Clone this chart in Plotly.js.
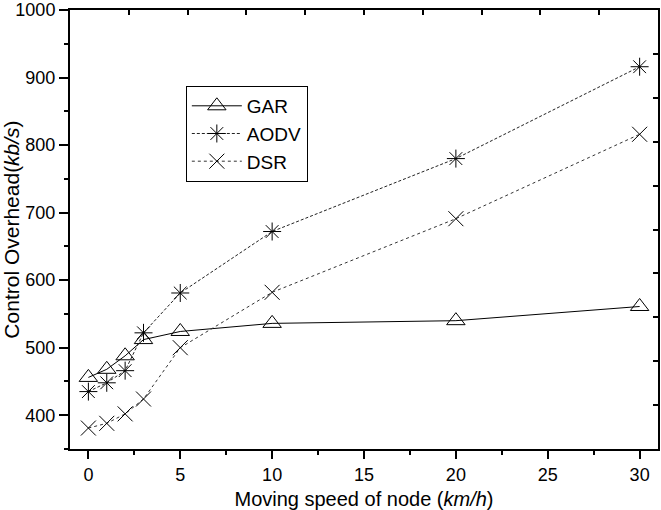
<!DOCTYPE html>
<html>
<head>
<meta charset="utf-8">
<script src="https://cdn.plot.ly/plotly-3.0.1.min.js"></script>
<style>html,body{margin:0;padding:0;background:#fff;}#chart{width:661px;height:510px;}</style>
</head>
<body>
<div id="chart"></div>
<script>
const speed = [0, 1, 2, 3, 5, 10, 20, 30];
const gar  = [456, 468, 488, 512, 524, 536, 540, 561];
const aodv = [435, 448, 466, 522, 581, 672, 780, 916];
const dsr  = [381, 388, 402, 424, 500, 582, 691, 816];
const seriesNames = ['GAR', 'AODV', 'DSR'];
const yTicks = [400, 500, 600, 700, 800, 900, 1000];

const traces = [
  {x: speed, y: gar, name: seriesNames[0], type: 'scatter', mode: 'lines+markers',
   line: {color: '#000', width: 1, dash: 'solid'},
   marker: {symbol: 'triangle-up-open', size: 16, color: '#000', line: {width: 1, color: '#000'}}},
  {x: speed, y: aodv, name: seriesNames[1], type: 'scatter', mode: 'lines+markers',
   line: {color: '#222', width: 1, dash: '3px,2px'},
   marker: {symbol: 'asterisk-open', size: 15, color: '#000', line: {width: 1, color: '#000'}}},
  {x: speed, y: dsr, name: seriesNames[2], type: 'scatter', mode: 'lines+markers',
   line: {color: '#333', width: 1, dash: 'dot'},
   marker: {symbol: 'x-thin-open', size: 15, color: '#000', line: {width: 1, color: '#000'}}},
  {x: [0, 10], y: [0, 10], xaxis: 'x2', yaxis: 'y2', mode: 'markers', marker: {opacity: 0},
   showlegend: false, hoverinfo: 'skip'}
];

const fam = 'Liberation Sans, Arial, sans-serif';
const tickFont = {family: fam, size: 18, color: '#000'};

const layout = {
  width: 661, height: 510,
  margin: {l: 70, r: 3, t: 10, b: 61},
  paper_bgcolor: '#fff', plot_bgcolor: '#fff',
  font: tickFont,
  showlegend: true,
  legend: {x: 0.197, y: 0.827, xanchor: 'left', yanchor: 'top',
           bordercolor: '#000', borderwidth: 1, bgcolor: '#fff',
           font: {family: fam, size: 19, color: '#000'},
           tracegroupgap: 0, itemwidth: 50},
  xaxis: {range: [-1, 31], tick0: 0, dtick: 5, ticks: 'outside', ticklen: 8, tickwidth: 2,
          tickcolor: '#000', showline: true, linewidth: 2, linecolor: '#000',
          showgrid: false, zeroline: false, tickfont: tickFont,
          minor: {dtick: 2.5, ticks: 'outside', ticklen: 4, tickwidth: 2, tickcolor: '#000', showgrid: false},
          title: {text: 'Moving speed of node (<i>km/h</i>)', font: {family: fam, size: 20, color: '#000'}, standoff: 8}},
  yaxis: {range: [350, 1000], tickvals: yTicks, ticks: 'outside', ticklen: 9, tickwidth: 2,
          tickcolor: '#000', showline: true, linewidth: 2, linecolor: '#000',
          showgrid: false, zeroline: false, tickfont: tickFont,
          minor: {dtick: 50, tick0: 0, ticks: 'outside', ticklen: 4, tickwidth: 2, tickcolor: '#000', showgrid: false},
          title: {text: 'Control Overhead(<i>kb/s</i>)', font: {family: fam, size: 21, color: '#000'}, standoff: 6}},
  xaxis2: {overlaying: 'x', side: 'top', anchor: 'y', range: [0, 10], dtick: 1, ticks: 'inside',
           ticklen: 5, tickwidth: 2, tickcolor: '#000', showticklabels: false,
           showline: true, linewidth: 2, linecolor: '#000', showgrid: false, zeroline: false},
  yaxis2: {overlaying: 'y', side: 'right', anchor: 'x', range: [0, 10], dtick: 1, ticks: 'inside',
           ticklen: 5, tickwidth: 2, tickcolor: '#000', showticklabels: false,
           showline: true, linewidth: 2, linecolor: '#000', showgrid: false, zeroline: false}
};

Plotly.newPlot('chart', traces, layout, {displayModeBar: false, staticPlot: true});
</script>
</body>
</html>
